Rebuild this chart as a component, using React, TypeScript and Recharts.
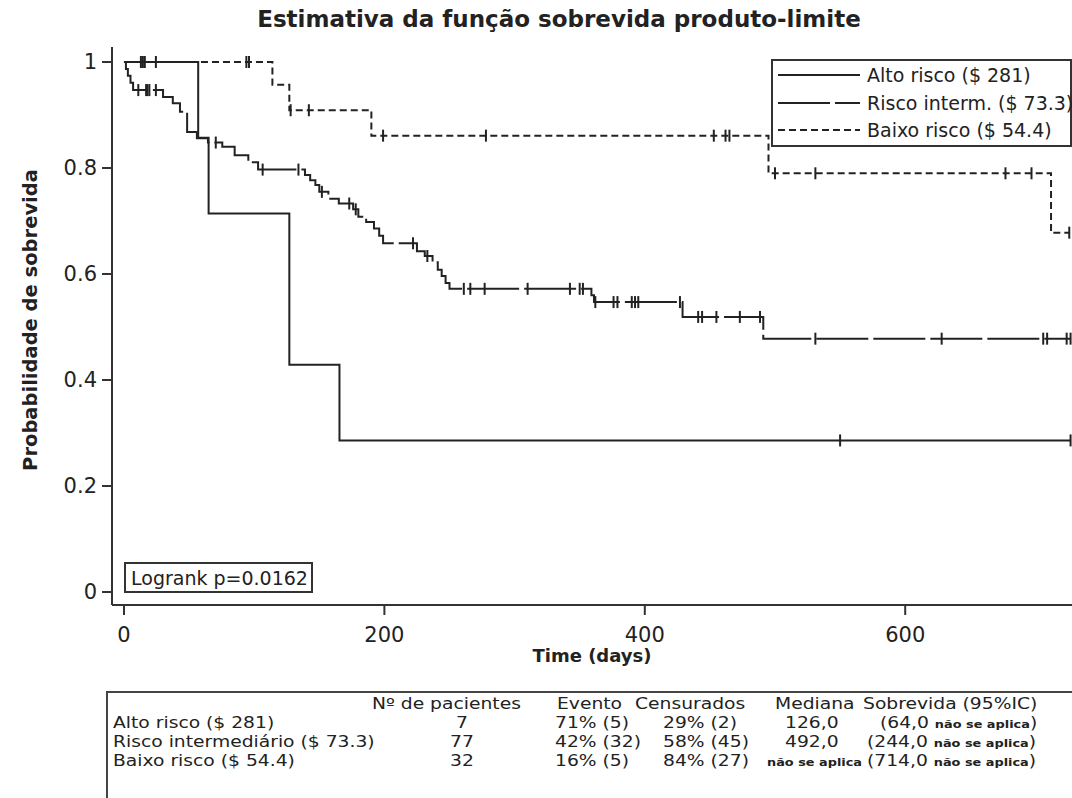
import React from 'react';
import { LineChart, Line, XAxis, YAxis } from 'recharts';

const FONT = '"DejaVu Sans", "Liberation Sans", sans-serif';
const INK = '#222';
const AXIS = '#333';

// Axis ticks
const xTicks = [0, 200, 400, 600];
const yTicks = [0, 0.2, 0.4, 0.6, 0.8, 1];

// Alto risco ($ 281)
const altoTimes = [0, 57, 65, 127, 165.5];
const altoSurv = [1, 0.857, 0.714, 0.429, 0.286];
const altoCensored = [550, 727];

// Risco interm. ($ 73.3)
const intermTimes = [0, 1.5, 3, 5, 7, 30, 37.5, 43, 48.5, 56, 64.5, 75.5, 85, 95.5, 103, 139, 143, 147, 150, 157, 165, 176, 180, 186, 192, 196, 199, 225, 231, 237, 241, 244, 247, 250, 359, 361, 429, 491];
const intermSurv = [1, 0.987, 0.974, 0.961, 0.947, 0.934, 0.922, 0.906, 0.868, 0.856, 0.848, 0.84, 0.824, 0.811, 0.797, 0.787, 0.777, 0.768, 0.755, 0.742, 0.733, 0.722, 0.708, 0.698, 0.686, 0.672, 0.658, 0.643, 0.634, 0.622, 0.608, 0.596, 0.583, 0.572, 0.56, 0.547, 0.519, 0.478];
const intermCensored = [11, 17, 18, 19.5, 24.5, 70.5, 106.5, 134, 152, 173, 178, 222, 233, 261, 266, 277, 310, 342.5, 350, 352.5, 362, 376, 379, 390, 392.5, 395, 427, 441, 444, 455, 473, 488.5, 531, 628, 706, 709, 724, 727];

// Baixo risco ($ 54.4)
const baixoTimes = [0, 114, 127, 190, 495, 712];
const baixoSurv = [1, 0.957, 0.909, 0.861, 0.79, 0.678];
const baixoCensored = [13, 14.5, 16, 24.5, 94, 96, 128, 142, 199, 278, 453, 462, 465, 500, 531, 677, 697, 726];

// Legend labels
const seriesNames = ['Alto risco ($ 281)', 'Risco interm. ($ 73.3)', 'Baixo risco ($ 54.4)'];
const seriesDash = ['', '52 5', '7 4'];

// Summary table
const tableHeaders = ['Nº de pacientes', 'Evento', 'Censurados', 'Mediana', 'Sobrevida (95%IC)'];
const tableRowNames = ['Alto risco ($ 281)', 'Risco intermediário ($ 73.3)', 'Baixo risco ($ 54.4)'];
const tablePatients = ['7', '77', '32'];
const tableEvents = ['71% (5)', '42% (32)', '16% (5)'];
const tableCensored = ['29% (2)', '58% (45)', '84% (27)'];
const tableMedian = ['126,0', '492,0', 'não se aplica'];
const tableCILower = ['(64,0', '(244,0', '(714,0'];
const NA = 'não se aplica';

type Pt = { t: number; s: number; c: boolean };

function buildSeries(times: number[], surv: number[], censored: number[]): Pt[] {
  const pts: Pt[] = times.map((t, i) => ({ t, s: surv[i], c: false }));
  censored.forEach((t) => {
    let s = surv[0];
    times.forEach((et, i) => {
      if (et <= t) s = surv[i];
    });
    pts.push({ t, s, c: true });
  });
  pts.sort((a, b) => a.t - b.t || (a.c ? 1 : 0) - (b.c ? 1 : 0));
  return pts;
}

const altoData = buildSeries(altoTimes, altoSurv, altoCensored);
const intermData = buildSeries(intermTimes, intermSurv, intermCensored);
const baixoData = buildSeries(baixoTimes, baixoSurv, baixoCensored);

const CensorDot = (props: any) => {
  const { cx, cy, payload, index } = props;
  if (!payload || !payload.c || cx == null || cy == null) return <g key={`e${index}`} />;
  return (
    <line key={`c${index}`} x1={cx} x2={cx} y1={cy - 6} y2={cy + 6} stroke={INK} strokeWidth={2} />
  );
};

const fmtY = (v: number) => (v === 0 ? '0' : v === 1 ? '1' : v.toFixed(1));

const X_DOMAIN: [number, number] = [-9.2, 728.1];
const Y_DOMAIN: [number, number] = [-0.02453, 1.0283];

const SX = 1.17;
const TFS = 16;

const TT = ({
  x,
  y,
  anchor = 'start',
  children,
}: {
  x: number;
  y: number;
  anchor?: 'start' | 'middle' | 'end';
  children: React.ReactNode;
}) => (
  <text transform={`translate(${x} ${y}) scale(${SX} 1)`} x={0} y={0} textAnchor={anchor} fontSize={TFS} fill={INK}>
    {children}
  </text>
);

export default function App() {
  const tick = { fontSize: 21, fill: INK, fontFamily: FONT };
  const headBase = 709;
  const rowBase = [728, 747, 766];
  return (
    <div
      style={{
        position: 'absolute',
        left: 0,
        top: 0,
        width: 1072,
        height: 798,
        overflow: 'hidden',
        background: '#fff',
        fontFamily: FONT,
      }}
    >
      <LineChart width={1072} height={798} margin={{ top: 47, right: 0, bottom: 133, left: 0 }}>
        <XAxis
          xAxisId="main"
          type="number"
          dataKey="t"
          domain={X_DOMAIN}
          ticks={xTicks}
          allowDataOverflow
          height={60}
          tickSize={10}
          tickMargin={12}
          tick={tick}
          axisLine={{ stroke: AXIS, strokeWidth: 2 }}
          tickLine={{ stroke: AXIS, strokeWidth: 2 }}
        />
        <XAxis
          xAxisId="top"
          orientation="top"
          type="number"
          dataKey="t"
          domain={X_DOMAIN}
          allowDataOverflow
          height={0}
          tick={false}
          tickLine={false}
          axisLine={{ stroke: AXIS, strokeWidth: 2 }}
        />
        <YAxis
          type="number"
          domain={Y_DOMAIN}
          ticks={yTicks}
          allowDataOverflow
          width={112}
          tickSize={10}
          tickMargin={5}
          tick={tick}
          tickFormatter={fmtY}
          axisLine={{ stroke: AXIS, strokeWidth: 2 }}
          tickLine={{ stroke: AXIS, strokeWidth: 2 }}
        />
        <Line
          xAxisId="main"
          data={altoData}
          dataKey="s"
          type="stepAfter"
          stroke={INK}
          strokeWidth={2}
          dot={CensorDot}
          activeDot={false}
          isAnimationActive={false}
          name={seriesNames[0]}
        />
        <Line
          xAxisId="main"
          data={intermData}
          dataKey="s"
          type="stepAfter"
          stroke={INK}
          strokeWidth={2}
          strokeDasharray={seriesDash[1]}
          dot={CensorDot}
          activeDot={false}
          isAnimationActive={false}
          name={seriesNames[1]}
        />
        <Line
          xAxisId="main"
          data={baixoData}
          dataKey="s"
          type="stepAfter"
          stroke={INK}
          strokeWidth={2}
          strokeDasharray={seriesDash[2]}
          dot={CensorDot}
          activeDot={false}
          isAnimationActive={false}
          name={seriesNames[2]}
        />
      </LineChart>

      <svg
        width={1072}
        height={798}
        style={{ position: 'absolute', left: 0, top: 0, pointerEvents: 'none' }}
        fontFamily={FONT}
      >
        {/* Title */}
        <text x={559} y={27} textAnchor="middle" fontSize={23} fontWeight="bold" fill={INK}>
          Estimativa da função sobrevida produto-limite
        </text>
        {/* Axis titles */}
        <text x={592} y={662} textAnchor="middle" fontSize={18} fontWeight="bold" fill={INK}>
          Time (days)
        </text>
        <text
          x={37}
          y={320}
          textAnchor="middle"
          fontSize={19.5}
          fontWeight="bold"
          fill={INK}
          transform="rotate(-90 37 320)"
        >
          Probabilidade de sobrevida
        </text>

        {/* Legend */}
        <rect x={772} y={60} width={299} height={86} fill="#fff" stroke={AXIS} strokeWidth={2} />
        {seriesNames.map((name, i) => {
          const cy = [75, 103, 130][i];
          return (
            <g key={name}>
              <line
                x1={778}
                x2={860}
                y1={cy}
                y2={cy}
                stroke={INK}
                strokeWidth={2}
                strokeDasharray={seriesDash[i] || undefined}
              />
              <text x={867} y={cy + 7} fontSize={19} fill={INK}>
                {name}
              </text>
            </g>
          );
        })}

        {/* Logrank box */}
        <rect x={125} y={563} width={187} height={29} fill="#fff" stroke={AXIS} strokeWidth={2} />
        <text x={131} y={585} fontSize={19} fill={INK}>
          Logrank p=0.0162
        </text>

        {/* Table */}
        <path d="M107,810 L107,692 L1080,692" fill="none" stroke="#444" strokeWidth={2} />
        <TT x={372} y={headBase}>{tableHeaders[0]}</TT>
        <TT x={557} y={headBase}>{tableHeaders[1]}</TT>
        <TT x={635} y={headBase}>{tableHeaders[2]}</TT>
        <TT x={775} y={headBase}>{tableHeaders[3]}</TT>
        <TT x={863} y={headBase}>{tableHeaders[4]}</TT>
        {tableRowNames.map((nm, i) => (
          <g key={nm}>
            <TT x={113} y={rowBase[i]}>{nm}</TT>
            <TT x={462} y={rowBase[i]} anchor="middle">{tablePatients[i]}</TT>
            <TT x={555} y={rowBase[i]}>{tableEvents[i]}</TT>
            <TT x={663} y={rowBase[i]}>{tableCensored[i]}</TT>
            {tableMedian[i] === NA ? (
              <TT x={767} y={rowBase[i]}>
                <tspan fontSize={11} fontWeight="bold">{tableMedian[i]}</tspan>
              </TT>
            ) : (
              <TT x={785} y={rowBase[i]}>{tableMedian[i]}</TT>
            )}
            <TT x={i === 0 ? 880 : 867} y={rowBase[i]}>
              {tableCILower[i]}
              <tspan fontSize={11} fontWeight="bold" dx={5}>{NA}</tspan>
              <tspan>)</tspan>
            </TT>
          </g>
        ))}
      </svg>
    </div>
  );
}
